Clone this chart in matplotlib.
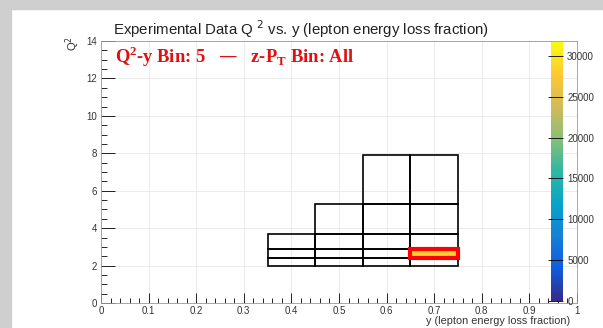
import numpy as np
import matplotlib
matplotlib.use('Agg')
import matplotlib.pyplot as plt
from matplotlib.colors import LinearSegmentedColormap, Normalize
from matplotlib.patches import Rectangle
from matplotlib.ticker import MultipleLocator

# Q2-y bin grid
y_edges = [0.35, 0.45, 0.55, 0.65, 0.75]
q2_edges = [2.0, 2.4, 2.9, 3.7, 5.3, 7.9]
row_first_ybin = [0, 0, 0, 1, 2]   # first y-bin present in each Q2 row

# highlighted bin (Q2-y bin 5) and its counts
hl_ybin = 3
hl_q2bin = 1
hl_counts = 28300
z_max = 31700

x_ticks = [0, 0.1, 0.2, 0.3, 0.4, 0.5, 0.6, 0.7, 0.8, 0.9, 1]
x_ticklabels = ['0', '0.1', '0.2', '0.3', '0.4', '0.5', '0.6', '0.7', '0.8', '0.9', '1']
y_ticks = [0, 2, 4, 6, 8, 10, 12, 14]
z_ticks = [0, 5000, 10000, 15000, 20000, 25000, 30000]

# ROOT kBird palette
stops = [0.0, 0.125, 0.25, 0.375, 0.5, 0.625, 0.75, 0.875, 1.0]
red = [0.2082, 0.0592, 0.0780, 0.0232, 0.1802, 0.5301, 0.8186, 0.9956, 0.9764]
green = [0.1664, 0.3599, 0.5041, 0.6419, 0.7178, 0.7492, 0.7328, 0.7862, 0.9832]
blue = [0.5293, 0.8684, 0.8385, 0.7914, 0.6425, 0.4662, 0.3499, 0.1968, 0.0539]
bird = LinearSegmentedColormap.from_list(
    'bird', list(zip(stops, zip(red, green, blue))))

plt.rcParams['font.family'] = ['Liberation Sans', 'DejaVu Sans']

W, H = 603, 328
fig = plt.figure(figsize=(W / 100, H / 100), dpi=100)
fig.patch.set_facecolor('white')

# gray canvas border (top and left strips)
fig.patches.append(Rectangle((0, 1 - 9 / H), 1, 9 / H, transform=fig.transFigure,
                             color='#cfcfcf', zorder=0))
fig.patches.append(Rectangle((0, 0), 11 / W, 1, transform=fig.transFigure,
                             color='#cfcfcf', zorder=0))

ax = fig.add_axes([101 / W, 1 - 303 / H, 476 / W, 262 / H])
ax.set_xlim(0, 1)
ax.set_ylim(0, 14)

# histogram cell for the selected bin
vals = np.full((len(q2_edges) - 1, len(y_edges) - 1), np.nan)
vals[hl_q2bin, hl_ybin] = hl_counts
norm = Normalize(0, z_max)
ax.pcolormesh(y_edges, q2_edges, np.ma.masked_invalid(vals), cmap=bird, norm=norm,
              zorder=2)

# bin outlines
for i in range(len(q2_edges) - 1):
    for j in range(row_first_ybin[i], len(y_edges) - 1):
        ax.add_patch(Rectangle((y_edges[j], q2_edges[i]),
                               y_edges[j + 1] - y_edges[j], q2_edges[i + 1] - q2_edges[i],
                               fill=False, ec='black', lw=1.2, zorder=3))

ax.add_patch(Rectangle((y_edges[hl_ybin], q2_edges[hl_q2bin]),
                       y_edges[hl_ybin + 1] - y_edges[hl_ybin],
                       q2_edges[hl_q2bin + 1] - q2_edges[hl_q2bin],
                       fill=False, ec='#ff0000', lw=3, zorder=4))

ax.set_xticks(x_ticks)
ax.set_xticklabels(x_ticklabels)
ax.set_yticks(y_ticks)
ax.xaxis.set_minor_locator(MultipleLocator(0.02))
ax.yaxis.set_minor_locator(MultipleLocator(0.5))
ax.tick_params(axis='x', which='major', direction='in', length=7, width=0.6,
               labelsize=7, labelcolor='#333333', pad=2)
ax.tick_params(axis='x', which='minor', direction='in', length=3.5, width=0.6)
ax.tick_params(axis='y', which='major', direction='in', length=10, width=0.6,
               labelsize=7, labelcolor='#333333', pad=3)
ax.tick_params(axis='y', which='minor', direction='in', length=4.5, width=0.6)
ax.grid(True, which='major', color='#e8e8e8', lw=0.6, zorder=0)
for s in ax.spines.values():
    s.set_color('#999999')
    s.set_linewidth(0.6)

fig.text(301 / W, 1 - 29 / H,
         'Experimental Data Q $^{2}$ vs. y (lepton energy loss fraction)',
         ha='center', va='center', fontsize=10.8, color='#222222')

ax.text(0.029, 0.985, r'Q$^\mathregular{2}$-y Bin: 5   —   z-P$_\mathregular{T}$ Bin: All',
        transform=ax.transAxes, ha='left', va='top', color='#e01010',
        fontsize=13.3, fontweight='bold', family='Liberation Serif', zorder=5)

fig.text(73 / W, 1 - 44 / H, 'Q$^{2}$', rotation=90, ha='center', va='center',
         fontsize=8, color='#333333')
fig.text(570 / W, 1 - 321.5 / H, 'y (lepton energy loss fraction)', ha='right',
         va='center', fontsize=7.8, color='#333333')

# palette (colour axis) drawn inside the frame, as ROOT does
cax = fig.add_axes([551 / W, 1 - 301 / H, 12 / W, 259 / H])
sm = plt.cm.ScalarMappable(norm=norm, cmap=bird)
cb = fig.colorbar(sm, cax=cax, ticks=z_ticks)
cb.outline.set_visible(False)
cax.yaxis.set_ticks_position('right')
cax.tick_params(axis='y', direction='in', length=11, width=0.6, labelsize=7,
                labelcolor='#333333', pad=3)
cax.minorticks_off()

fig.savefig('out.png', dpi=100)
